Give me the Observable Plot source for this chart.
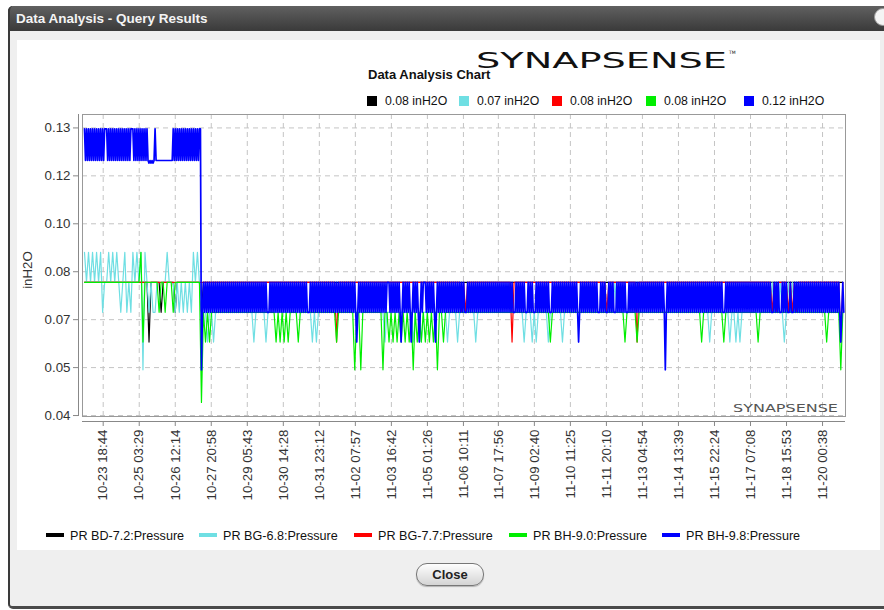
<!DOCTYPE html>
<html><head><meta charset="utf-8">
<script src="https://cdn.jsdelivr.net/npm/d3@7"></script>
<script src="https://cdn.jsdelivr.net/npm/@observablehq/plot@0.6"></script>
<style>
html,body{margin:0;padding:0}
body{width:884px;height:610px;overflow:hidden;background:#fff;position:relative;font-family:"Liberation Sans",Arial,sans-serif}
#win{position:absolute;left:8px;top:6px;width:890px;height:600px;background:#efefef;border-left:2px solid #3a3a3a;border-bottom:3px solid #4a4a4a;border-radius:5px 0 0 5px}
#titlebar{position:absolute;left:8px;top:6px;width:872px;height:25px;background:linear-gradient(#606060,#3a3a3a);color:#f4f4f4;font-weight:bold;font-size:13.5px;line-height:25px;padding-left:6px;border-radius:5px 0 0 0;border-left:2px solid #3a3a3a}
#xbtn{position:absolute;left:874px;top:8px;width:16px;height:16px;border-radius:50%;background:#f4f4f4;border:1px solid #999}
#panel{position:absolute;left:17px;top:40px;width:863px;height:510px;background:#fff}
#ctitle{position:absolute;left:368px;top:67px;font-weight:bold;font-size:13px;color:#111}
.hl{position:absolute;top:94px;font-size:12.3px;color:#111;line-height:14px;white-space:nowrap}
.hl i{display:inline-block;width:10px;height:10px;margin-right:8px;vertical-align:-1px}
.bl{position:absolute;top:529px;font-size:12.6px;color:#111;line-height:14px;white-space:nowrap}
.bl i{display:inline-block;width:18px;height:4px;margin-right:6px;vertical-align:3px}
#ylab{position:absolute;left:27px;top:270px;transform:translate(-50%,-50%) rotate(-90deg);font-size:13.3px;color:#333}
#close{position:absolute;left:416px;top:563px;width:66px;height:21px;border:1px solid #777;border-radius:11px;background:linear-gradient(#fefefe,#d4d4d4);font-weight:bold;font-size:13px;line-height:21px;text-align:center;color:#222;box-shadow:0 1px 1px rgba(0,0,0,.25)}
#chart{position:absolute;left:17px;top:100px}
.ov{position:absolute}
</style></head>
<body>
<div id="win"></div>
<div id="titlebar">Data Analysis - Query Results</div>
<div id="xbtn"></div>
<div id="panel"></div>
<svg class="ov" style="left:470px;top:46px" width="280" height="28">
  <text x="6" y="22" font-family="DejaVu Sans" font-size="21" textLength="251" lengthAdjust="spacingAndGlyphs" fill="#111">SYNAPSENSE</text>
  <text x="259" y="8" font-family="DejaVu Sans" font-size="4.5" fill="#111">TM</text>
</svg>
<div id="ctitle">Data Analysis Chart</div>
<div id="toplegend"></div>
<div id="ylab">inH2O</div>
<div id="chart"></div>
<svg class="ov" style="left:728px;top:400px" width="120" height="16">
  <text x="5" y="12" font-family="DejaVu Sans" font-size="9.6" textLength="105" lengthAdjust="spacingAndGlyphs" fill="#555">SYNAPSENSE</text>
</svg>
<div id="botlegend"></div>
<div id="close">Close</div>
<script>
// ---------------- data ----------------
const seriesNames = ["PR BD-7.2:Pressure", "PR BG-6.8:Pressure", "PR BG-7.7:Pressure", "PR BH-9.0:Pressure", "PR BH-9.8:Pressure"];
const seriesColors = ["#000000", "#6fdfe3", "#ff0000", "#00ee00", "#0000ff"];
const headerValues = ["0.08 inH2O", "0.07 inH2O", "0.08 inH2O", "0.08 inH2O", "0.12 inH2O"];

// sensor readings are quantised; each character of a level string is one reading
const levelCodes = ["a", "b", "c", "d", "e", "f", "g", "h", "i"];
const levelValues = [0.0441, 0.0543, 0.0630, 0.0723, 0.0817, 0.0911, 0.1190, 0.1198, 0.1297];
const sampleStart = "2011-10-23T01:43:00Z";
const sampleStepMinutes = [110, 110, 110, 110, 55];

const levelsBD72 = [
  "eeeeeeeeee","eeeeeeeeee","eeeeeeeeee","eeceeeeede","eeeeedeeee","eeeeeeeede",
  "eeeeeeeeee","eeeeeeeeee","eeeeeeeeee","eeeeeeeeee","eeeeeeeeee","eeeeeeeeee",
  "eeeeeeeeee","eeeeeeeeee","eeeeeeeeee","eeeeeeeeee","eeeeeeeeee","eeeeeeeeee",
  "eeeeeeeeee","eeeeeeeeee","eeeeeeeeee","eeeeeeeeee","eeeeeeeeee","eeeeeeeeee",
  "eeeeeeeeee","eeeeeeeeee","eeeeeeeeee","eeeeeeeeee","eeeeeeeeee","eeeeeeeeee",
  "eeeeeeeeee","eeeeeeeeee","eeeeeeeeee","eeeeeeeeee","eeeeeeeeee","eeeeeeeeee",
  "eeeeeeeeee","eeeeeee"].join("");
const levelsBG68 = [
  "fefefefefd","eefefefede","fdedfefefb","fededdeeee","efeeededed","ededfefedd",
  "dcddcddddd","dddddddddd","ddddcddddd","cddddddddd","dddddddddd","dddcdcdddd",
  "dddddddddd","dddddddddd","dddddddddc","dddddddddd","dddcdddcdd","dddddddddd",
  "cddddcdddd","ddddcddddd","dddddddddd","ddddddddcd","ddcdcddddd","cddddddcdd",
  "dddddddddd","dddddddddd","dededddddd","dddddddddd","dddddddddd","dddddddddd",
  "dddddddddd","cddddddddd","cddcdcdddd","dddddddddd","dedededcde","dededddddd",
  "dddddddddd","ddddddd"].join("");
const levelsBG77 = [
  "eeeeeeeeee","eeeeeeeeee","eeeeeeeeee","eeeeeeeeee","eeeeeeeeee","eeeeeeeeee",
  "eeeeeeeeee","eeeeeeeeee","eeeeeeeeee","eeeeeeeeee","eeeeeeeeee","eeeeeeeeee",
  "eeeeeceeee","eeeeeeeeee","eeeeeeeeee","eeeeeeeeee","eeeeeeeeee","eeeeeeeeee",
  "eeeeeeeded","eeeeeeeeee","eeeeeeeeee","eeceeeeeee","eeeeeeeeee","eeeeeeeeee",
  "eeeeeeeeee","eeeeeeeeed","eeeeeeeeee","eeeeceeeee","eeeeeeeeee","eeeeeeeeee",
  "eeeeeeeeee","eeeeeeeeee","eeeeeeeeee","eeeeeeeeee","ededeeeeed","ededeeeeee",
  "eeeeeeeeee","eeeeece"].join("");
const levelsBH90 = [
  "eeeeeeeeee","eeeeeeeeee","eeeeeeeefc","eeeeeeedee","deeedeeeee","eeeeeeeead",
  "cdcddddddd","dddddddddd","dddddddddd","dddddcdcdc","dcddddcddd","dddddddddd",
  "dddddcdddd","ddddbddbdd","ddddddddbd","dcdcdcdcdc","dcdbdcdcdc","dcdcdbddcd",
  "dddddddddd","dddddddddd","dddddddddd","dddddddddd","dddddddddd","dcdddddddd",
  "dddddddddd","dddddddddd","ddddddddcd","ddddcddddd","dddddddddd","dddddddddd",
  "ddddddcddd","dddddddcdd","dddddddddd","ddddcddddd","dddddddddd","dddddddddd",
  "ddddddddcd","dddddbd"].join("");
const levelsBH98 = [
  "ihihihihih","ihihihihih","iiihihihih","ihihihihih","ihihihiiih","ihihihihih",
  "ihihghghgh","ihhhhhhhhh","hhhhhhhhih","ihihihihih","ihihihihih","ihihiibded",
  "ededededed","ededededed","ededededed","ededededed","ededededed","ededededed",
  "edddededed","ededededed","ededededed","ededededed","edddededed","ededededed",
  "ededededed","ededededed","ededededed","cdedededed","ededededed","ededededed",
  "eeedededed","ededcdeded","ededcdeded","edcdedeeed","ededededcd","ededededed",
  "ededededed","ededededdd","ededededed","ededededed","ededededed","ededededed",
  "edededdded","ededededdd","edededdded","ededededed","edddededed","ededededed",
  "ededededed","cdedededed","ededededed","ddedededdd","edededdded","ededededdd",
  "ededededed","ededededed","ededededed","edededbded","ededededed","ededededed",
  "ededededed","ededededed","ededededed","ededddeded","ededededed","ededededed",
  "ededededed","ededededed","edddededed","ddedededdd","edddededed","ededededed",
  "ededededed","ededededed","ededededed","cded"].join("");
const seriesLevels = [levelsBD72, levelsBG68, levelsBG77, levelsBH90, levelsBH98];

const xTickLabels = ["10-23 18:44","10-25 03:29","10-26 12:14","10-27 20:58","10-29 05:43","10-30 14:28","10-31 23:12",
  "11-02 07:57","11-03 16:42","11-05 01:26","11-06 10:11","11-07 17:56","11-09 02:40","11-10 11:25",
  "11-11 20:10","11-13 04:54","11-14 13:39","11-15 22:24","11-17 07:08","11-18 15:53","11-20 00:38"];
const tickYear = 2011;
const yTickValues = [0.04, 0.055, 0.07, 0.085, 0.10, 0.115, 0.13];
const yTickLabels = ["0.04", "0.05", "0.07", "0.08", "0.10", "0.12", "0.13"];
const xDomain = ["2011-10-22T23:55:00Z", "2011-11-20T21:30:00Z"];
const yDomain = [0.0397, 0.1342];

// ---------------- build ----------------
const t0 = new Date(sampleStart).getTime();
const rows = [];
seriesLevels.forEach((str, k) => {
  for (let j = 0; j < str.length; j++) {
    rows.push({s: seriesNames[k], t: new Date(t0 + j * sampleStepMinutes[k] * 60000), v: levelValues[levelCodes.indexOf(str[j])]});
  }
});
const xTicks = xTickLabels.map(l => new Date(`${tickYear}-${l.replace(" ", "T")}:00Z`));
const xLabel = new Map(xTicks.map((d, i) => [+d, xTickLabels[i]]));
const yLabel = new Map(yTickValues.map((d, i) => [d, yTickLabels[i]]));
const xd = xDomain.map(d => new Date(d));

const lineMarks = seriesNames.map((name, k) =>
  Plot.line(rows.filter(r => r.s === name), {
    x: "t", y: "v", stroke: seriesColors[k], curve: "linear",
    strokeWidth: k === 4 ? 1.7 : 1.2
  }));

const chart = Plot.plot({
  width: 863, height: 420,
  marginLeft: 65, marginRight: 35, marginTop: 14, marginBottom: 104,
  style: {fontFamily: "Liberation Sans, Arial, sans-serif", fontSize: "13.3px", color: "#333", background: "none", overflow: "visible"},
  x: {type: "utc", domain: xd},
  y: {domain: yDomain},
  marks: [
    Plot.gridX(xTicks, {stroke: "#c4c4c4", strokeOpacity: 1, strokeDasharray: "5,4"}),
    Plot.gridY(yTickValues, {stroke: "#c4c4c4", strokeOpacity: 1, strokeDasharray: "5,4"}),
    ...lineMarks,
    Plot.frame({stroke: "#999"}),
    Plot.ruleX([xd[0]], {dx: -4, stroke: "#888"}),
    Plot.axisY(yTickValues, {tickFormat: d => yLabel.get(d), tickSize: 5, dx: -4, tickPadding: 3, label: null, stroke: "#888"}),
    Plot.ruleY([yDomain[0]], {dy: 5, stroke: "#888"}),
    Plot.axisX(xTicks, {tickFormat: d => xLabel.get(+d), tickRotate: -90, tickSize: 5, dy: 5, tickPadding: 3, label: null, stroke: "#888"})
  ]
});
document.getElementById("chart").appendChild(chart);

// legends (HTML, outside the SVG)
const topX = [367, 459, 552, 646, 744];
const botX = [46, 199, 354, 509, 662];
const tl = document.getElementById("toplegend");
const bl = document.getElementById("botlegend");
seriesNames.forEach((name, k) => {
  const a = document.createElement("div");
  a.className = "hl"; a.style.left = topX[k] + "px";
  a.innerHTML = `<i style="background:${seriesColors[k]}"></i>${headerValues[k]}`;
  tl.appendChild(a);
  const b = document.createElement("div");
  b.className = "bl"; b.style.left = botX[k] + "px";
  b.innerHTML = `<i style="background:${seriesColors[k]}"></i>${name}`;
  bl.appendChild(b);
});
</script>
</body></html>
